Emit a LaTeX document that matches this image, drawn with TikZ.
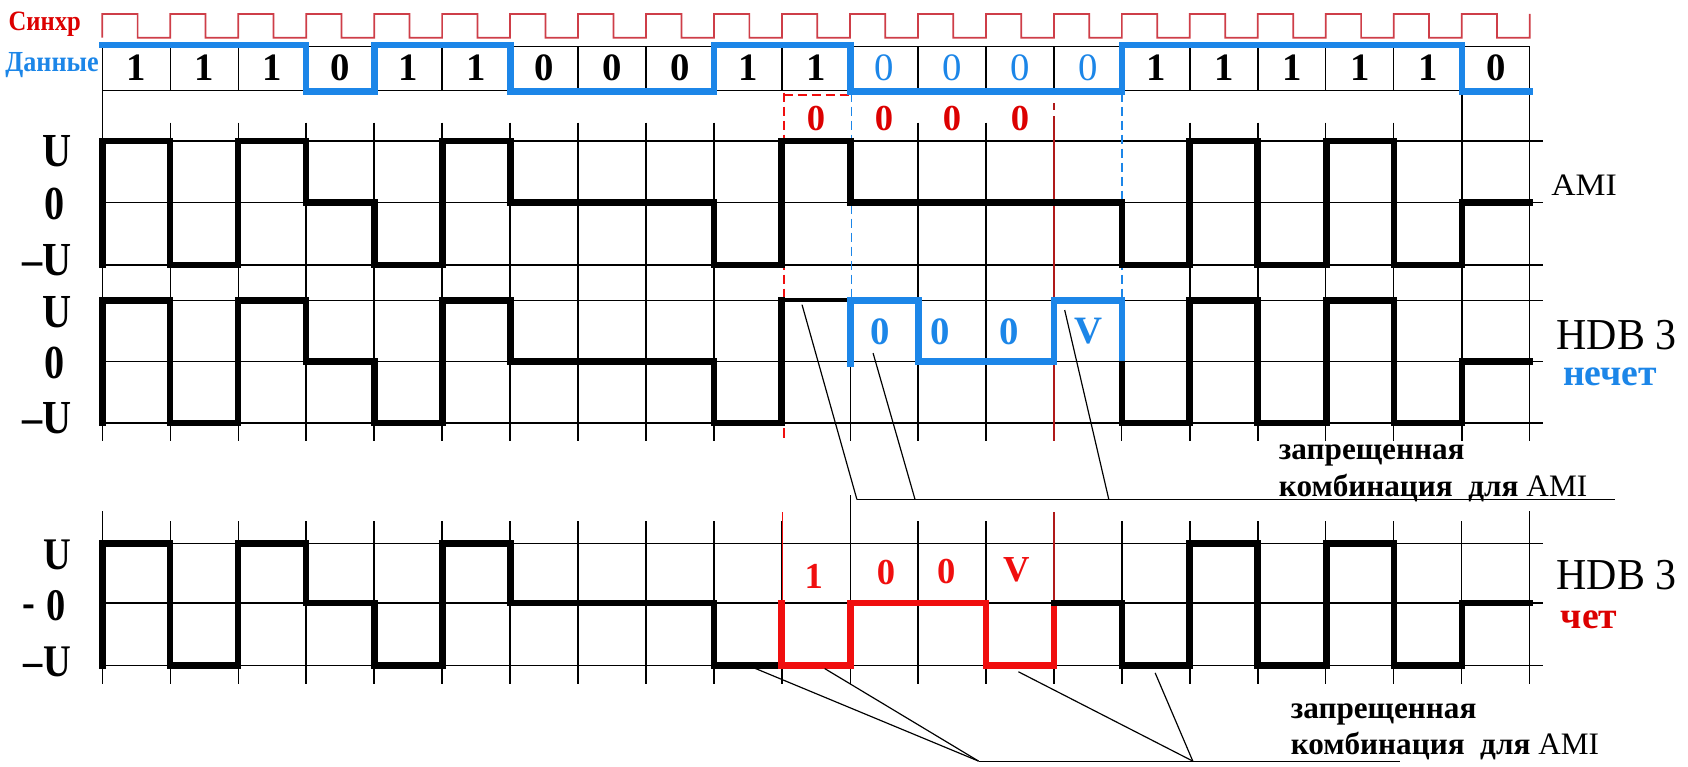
\documentclass[tikz,border=0pt]{standalone}
\usepackage{fontspec}
\setmainfont{Liberation Serif}
\usepackage{graphicx}
\definecolor{dblue}{RGB}{28,134,232}
\definecolor{wred}{RGB}{240,14,14}
\definecolor{tred}{RGB}{220,0,0}
\definecolor{clkred}{RGB}{206,62,72}
\definecolor{dred}{RGB}{175,25,25}
\newcommand{\myfs}[1]{\fontsize{#1}{#1}\selectfont}
\newcommand{\sx}[2]{\scalebox{#1}[1]{#2}}
\begin{document}
\begin{tikzpicture}[x=1pt,y=-1pt,
  gridl/.style={line width=1.3pt,black},
  wave/.style={line width=6pt,line join=miter,line cap=rect},
  thinwave/.style={line width=3.5pt,line cap=rect},
  callout/.style={line width=1.1pt,black},
  dashred/.style={wred,line width=1.6pt,dash pattern=on 9pt off 4pt},
  dashblue/.style={dblue,line width=1.6pt,dash pattern=on 9pt off 4pt},
  lbl/.style={inner sep=0pt,outer sep=0pt},
  ylab/.style={lbl,anchor=base},
]
\useasboundingbox (0,0) rectangle (1568,712);
\fill[white] (0,0) rectangle (1568,712);

% ---------- clock ----------
\draw[clkred,line width=1.6pt,line join=miter] (95,35)
  \foreach \k in {0,...,20} { -- ({95+63.14*\k},13) -- ({95+63.14*(\k+0.52)},13)
     -- ({95+63.14*(\k+0.52)},35) -- ({95+63.14*(\k+1)},35) } -- (1421,13);

% ---------- data box ----------
\draw[gridl] (95,43) rectangle (1421,84);
\foreach \k in {1,...,20} \draw[gridl] ({95+63.14*\k},43) -- ({95+63.14*\k},84);

% ---------- grid section A ----------
\foreach \y in {131,188,246,279,336,393} \draw[gridl] (95,\y) -- (1433,\y);
\foreach \k in {1,...,9,12,13,16,17,18,19} \draw[gridl] ({95+63.14*\k},114) -- ({95+63.14*\k},410);
\draw[gridl] (95,84) -- (95,410);
\draw[gridl] (1421,84) -- (1421,410);
\draw[gridl] (1358,84) -- (1358,410);
\draw[gridl] (790,279) -- (790,410);
\draw[gridl] (1042,279) -- (1042,410);

% coloured guide lines
\draw[dashred] (728,86) -- (728,410);
\draw[dashred] (728,88) -- (790,88);
\draw[dashblue] (791,86) -- (791,279);
\draw[dashblue] (1042,86) -- (1042,279);
\draw[dred,line width=1.5pt] (979,96) -- (979,102);
\draw[dred,line width=1.5pt] (979,108) -- (979,410);

% ---------- grid section B ----------
\foreach \y in {505,560,618} \draw[gridl] (95,\y) -- (1433,\y);
\foreach \k in {1,...,10,12,13,14,15,16,17,18,19,20} \draw[gridl] ({95+63.14*\k},484) -- ({95+63.14*\k},635);
\draw[gridl] (95,475) -- (95,635);
\draw[gridl] (1421,475) -- (1421,635);
\draw[gridl] (790,460) -- (790,635);
\draw[wred,line width=1.5pt] (727,476) -- (727,560);
\draw[dred,line width=1.6pt] (979,476) -- (979,560);

% ---------- data line ----------
\draw[dblue,wave] (95,42) -- (284,42) -- (284,85) -- (348,85) -- (348,42) -- (474,42) -- (474,85)
  -- (663,85) -- (663,42) -- (790,42) -- (790,85) -- (1042,85) -- (1042,42) -- (1358,42)
  -- (1358,85) -- (1421,85);

% ---------- AMI ----------
\draw[wave] (95,246) -- (95,131) -- (158,131) -- (158,246) -- (221,246) -- (221,131) -- (284,131)
  -- (284,188) -- (348,188) -- (348,246) -- (411,246) -- (411,131) -- (474,131) -- (474,188)
  -- (663,188) -- (663,246) -- (726,246) -- (726,131) -- (790,131) -- (790,188) -- (1042,188)
  -- (1042,246) -- (1105,246) -- (1105,131) -- (1168,131) -- (1168,246) -- (1232,246)
  -- (1232,131) -- (1295,131) -- (1295,246) -- (1358,246) -- (1358,188) -- (1421,188);

% ---------- HDB3 odd ----------
\draw[wave] (95,393) -- (95,279) -- (158,279) -- (158,393) -- (221,393) -- (221,279) -- (284,279)
  -- (284,336) -- (348,336) -- (348,393) -- (411,393) -- (411,279) -- (474,279) -- (474,336)
  -- (663,336) -- (663,393) -- (726,393) -- (726,279);
\draw[thinwave] (726,279) -- (790,279);
\draw[dblue,wave] (790,338) -- (790,279) -- (853,279) -- (853,336) -- (979,336) -- (979,279)
  -- (1042,279) -- (1042,338);
\draw[wave] (1042,338) -- (1042,393) -- (1105,393) -- (1105,279) -- (1168,279) -- (1168,393)
  -- (1232,393) -- (1232,279) -- (1295,279) -- (1295,393) -- (1358,393) -- (1358,336) -- (1421,336);

% ---------- HDB3 even ----------
\draw[wave] (95,618) -- (95,505) -- (158,505) -- (158,618) -- (221,618) -- (221,505) -- (284,505)
  -- (284,560) -- (348,560) -- (348,618) -- (411,618) -- (411,505) -- (474,505) -- (474,560)
  -- (663,560) -- (663,618) -- (726,618);
\draw[wred,wave] (726,560) -- (726,618) -- (790,618) -- (790,560) -- (916,560) -- (916,618)
  -- (979,618) -- (979,560);
\draw[wave] (979,560) -- (1042,560) -- (1042,618) -- (1105,618) -- (1105,505) -- (1168,505)
  -- (1168,618) -- (1232,618) -- (1232,505) -- (1295,505) -- (1295,618) -- (1358,618)
  -- (1358,560) -- (1421,560);

% ---------- callout lines ----------
\coordinate (ua) at (745,283);
\coordinate (ub) at (811,328);
\coordinate (uc) at (989,288);
\coordinate (uj1) at (796,464);
\coordinate (uj2) at (850,464);
\coordinate (uj3) at (1030,464);
\coordinate (ue) at (1500,464);
\draw[callout] (ua) -- (uj1);
\draw[callout] (ub) -- (uj2);
\draw[callout] (uc) -- (uj3);
\draw[callout] (uj1) -- (ue);

\coordinate (la) at (697,619);
\coordinate (lb) at (766,621);
\coordinate (lc) at (946,624);
\coordinate (ld) at (1073,625);
\coordinate (lj1) at (909,707);
\coordinate (lj2) at (1108,707);
\coordinate (le) at (1300,707);
\draw[callout] (la) -- (lj1);
\draw[callout] (lb) -- (lj1);
\draw[callout] (lc) -- (lj2);
\draw[callout] (ld) -- (lj2);
\draw[callout] (lj1) -- (le);

% ---------- texts ----------
\node[lbl,anchor=base west,text=tred] (sync) at (8,28) {\sx{0.88}{\myfs{26}\bfseries Синхр}};
\node[lbl,anchor=base west,text=dblue] (data) at (5,66) {\sx{0.9}{\myfs{27}\bfseries Данные}};

\foreach \d/\c/\f [count=\k from 0] in {1/black/bx,1/black/bx,1/black/bx,0/black/bx,1/black/bx,1/black/bx,0/black/bx,0/black/bx,0/black/bx,1/black/bx,1/black/bx,0/dblue/m,0/dblue/m,0/dblue/m,0/dblue/m,1/black/bx,1/black/bx,1/black/bx,1/black/bx,1/black/bx,0/black/bx}
  \node[lbl,text=\c,font=\myfs{36}\fontseries{\f}\selectfont] (bit\k) at ({95+63.14*(\k+0.5)},63) {\d};

\foreach \k in {10,...,13}
  \node[lbl,text=tred,font=\myfs{34}\bfseries] (rz\k) at ({95+63.14*(\k+0.5)},110) {0};

\node[lbl,text=dblue,font=\myfs{36}\bfseries] (bl1) at (818,308) {0};
\node[lbl,text=dblue,font=\myfs{36}\bfseries] (bl2) at (873,308) {0};
\node[lbl,text=dblue,font=\myfs{36}\bfseries] (bl3) at (937,308) {0};
\node[lbl,text=dblue,font=\myfs{36}\bfseries] (blv) at (1011,308) {V};

\node[lbl,text=wred,font=\myfs{34}\bfseries] (rl1) at (756,535) {1};
\node[lbl,text=wred,font=\myfs{34}\bfseries] (rl2) at (823,532) {0};
\node[lbl,text=wred,font=\myfs{34}\bfseries] (rl3) at (879,531) {0};
\node[lbl,text=wred,font=\myfs{34}\bfseries] (rlv) at (944,529) {V};

% y labels
\node[ylab] (ya1) at (53,155) {\sx{0.85}{\myfs{44}\bfseries U}};
\node[ylab] (ya2) at (51,204) {\sx{0.85}{\myfs{44}\bfseries 0}};
\node[ylab] (ya3) at (44,256) {\sx{0.85}{\myfs{44}\bfseries –U}};
\node[ylab] (yb1) at (53,304) {\sx{0.85}{\myfs{44}\bfseries U}};
\node[ylab] (yb2) at (51,352) {\sx{0.85}{\myfs{44}\bfseries 0}};
\node[ylab] (yb3) at (44,403) {\sx{0.85}{\myfs{44}\bfseries –U}};
\node[ylab] (yc1) at (53,529) {\sx{0.85}{\myfs{42}\bfseries U}};
\node[ylab] (yc2d) at (27,574) {\sx{0.85}{\myfs{42}\bfseries -}};
\node[ylab] (yc2) at (52,576) {\sx{0.85}{\myfs{42}\bfseries 0}};
\node[ylab] (yc3) at (44,628) {\sx{0.85}{\myfs{42}\bfseries –U}};

% right labels
\node[lbl,anchor=base west] (ami) at (1441,182) {\sx{1.08}{\myfs{29}AMI}};
\node[lbl,anchor=base west] (hdbo) at (1446,325) {\sx{0.95}{\myfs{41}HDB 3}};
\node[lbl,anchor=base west,text=dblue] (odd) at (1452,358) {\myfs{35}\bfseries нечет};
\node[lbl,anchor=base west] (hdbe) at (1446,548) {\sx{0.95}{\myfs{41}HDB 3}};
\node[lbl,anchor=base west,text=tred] (even) at (1450,584) {\myfs{35}\bfseries чет};

\node[lbl,anchor=base west] (f1a) at (1188,427) {\myfs{29}\bfseries запрещенная};
\node[lbl,anchor=base west] (f1b) at (1188,461) {\myfs{29}\bfseries комбинация\ \ для \mdseries AMI};
\node[lbl,anchor=base west] (f2a) at (1199,667) {\myfs{29}\bfseries запрещенная};
\node[lbl,anchor=base west] (f2b) at (1199,701) {\myfs{29}\bfseries комбинация\ \ для \mdseries AMI};
\end{tikzpicture}
\end{document}
